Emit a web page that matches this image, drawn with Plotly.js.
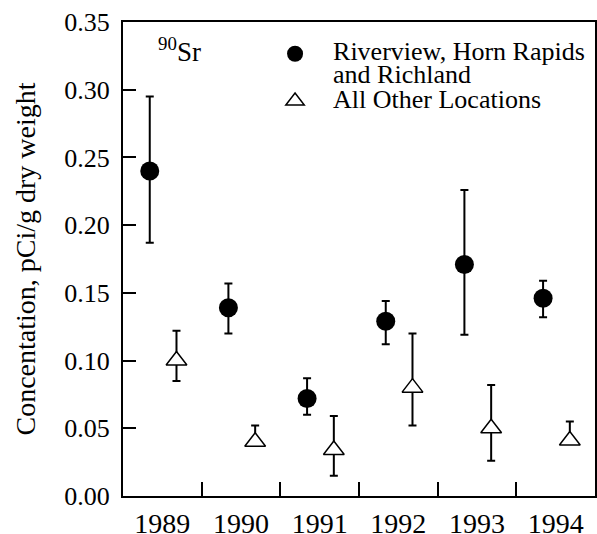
<!DOCTYPE html>
<html>
<head>
<meta charset="utf-8">
<script src="https://cdn.plot.ly/plotly-3.0.1.min.js"></script>
<style>html,body{margin:0;padding:0;background:#fff;}#chart{width:597px;height:534px;}</style>
</head>
<body>
<div id="chart"></div>
<script>
// ---- data ----
const years = ['1989', '1990', '1991', '1992', '1993', '1994'];
const nearValue = [0.240, 0.139, 0.072, 0.129, 0.171, 0.146];
const nearUpper = [0.295, 0.157, 0.087, 0.144, 0.226, 0.159];
const nearLower = [0.187, 0.120, 0.060, 0.112, 0.119, 0.132];
const otherValue = [0.100, 0.040, 0.034, 0.080, 0.050, 0.041];
const otherUpper = [0.122, 0.052, 0.059, 0.120, 0.082, 0.055];
const otherLower = [0.085, 0.038, 0.015, 0.052, 0.026, 0.039];
const yTicks = [0, 0.05, 0.10, 0.15, 0.20, 0.25, 0.30, 0.35];
const nearLines = ['Riverview, Horn Rapids', 'and Richland'];
const otherLines = ['All Other Locations'];

// ---- layout helpers ----
const idx = years.map((_, i) => i);
const FONT = 'Liberation Serif';
const xNear = idx.map(i => i + 0.34);
const xOther = idx.map(i => i + 0.68);
const big = lines => lines.map(t => '<span style="font-size:26px">' + t + '</span>').join('<br>');

const traces = [
  {
    x: xNear, y: nearValue, type: 'scatter', mode: 'markers',
    name: big(nearLines),
    marker: {symbol: 'circle', size: 19, color: '#000', line: {width: 0}},
    error_y: {type: 'data', symmetric: false,
      array: nearValue.map((v, i) => nearUpper[i] - v),
      arrayminus: nearValue.map((v, i) => v - nearLower[i]),
      color: '#000', thickness: 2, width: 4}
  },
  {
    x: xOther, y: otherValue, type: 'scatter', mode: 'markers',
    name: big(otherLines),
    marker: {symbol: 'triangle-up', size: 18, color: '#fff', line: {width: 1.5, color: '#000'}},
    error_y: {type: 'data', symmetric: false,
      array: otherValue.map((v, i) => otherUpper[i] - v),
      arrayminus: otherValue.map((v, i) => v - otherLower[i]),
      color: '#000', thickness: 2, width: 4}
  }
];

const layout = {
  width: 597, height: 534,
  margin: {l: 123, r: 2, t: 22, b: 38},
  paper_bgcolor: '#fff', plot_bgcolor: '#fff',
  font: {family: FONT, color: '#000', size: 25},
  showlegend: true,
  legend: {x: 0.284, y: 0.97, xanchor: 'left', yanchor: 'top',
    bgcolor: 'rgba(0,0,0,0)', font: {family: FONT, size: 17, color: '#000'},
    valign: 'top', itemsizing: 'trace', itemwidth: 66, tracegroupgap: 0},
  xaxis: {
    range: [0, 6], showgrid: false, zeroline: false,
    tickmode: 'array', tickvals: idx.map(i => i + 0.5), ticktext: years,
    ticks: '', ticklabelstandoff: 1,
    tickfont: {family: FONT, size: 28, color: '#000'},
    showline: true, linecolor: '#000', linewidth: 2, mirror: true,
    minor: {tickvals: [1, 2, 3, 4, 5], ticks: 'inside', ticklen: 14, tickwidth: 2, tickcolor: '#000', showgrid: false}
  },
  yaxis: {
    range: [0, 0.35], showgrid: false, zeroline: false,
    tickmode: 'array', tickvals: yTicks, tickformat: '.2f',
    ticks: 'inside', ticklen: 13, tickwidth: 2, tickcolor: '#000',
    ticklabelstandoff: 6,
    tickfont: {family: FONT, size: 26, color: '#000'},
    showline: true, linecolor: '#000', linewidth: 2, mirror: true,
    title: {text: 'Concentation, pCi/g dry weight', font: {family: FONT, size: 28, color: '#000'}, standoff: 20}
  },
  annotations: [{
    xref: 'x', yref: 'y', x: 0.42, y: 0.329, xanchor: 'left', yanchor: 'middle',
    text: '<sup>90</sup>Sr', showarrow: false, font: {family: FONT, size: 27, color: '#000'}
  }]
};

Plotly.newPlot('chart', traces, layout, {staticPlot: true, displayModeBar: false});
</script>
</body>
</html>
